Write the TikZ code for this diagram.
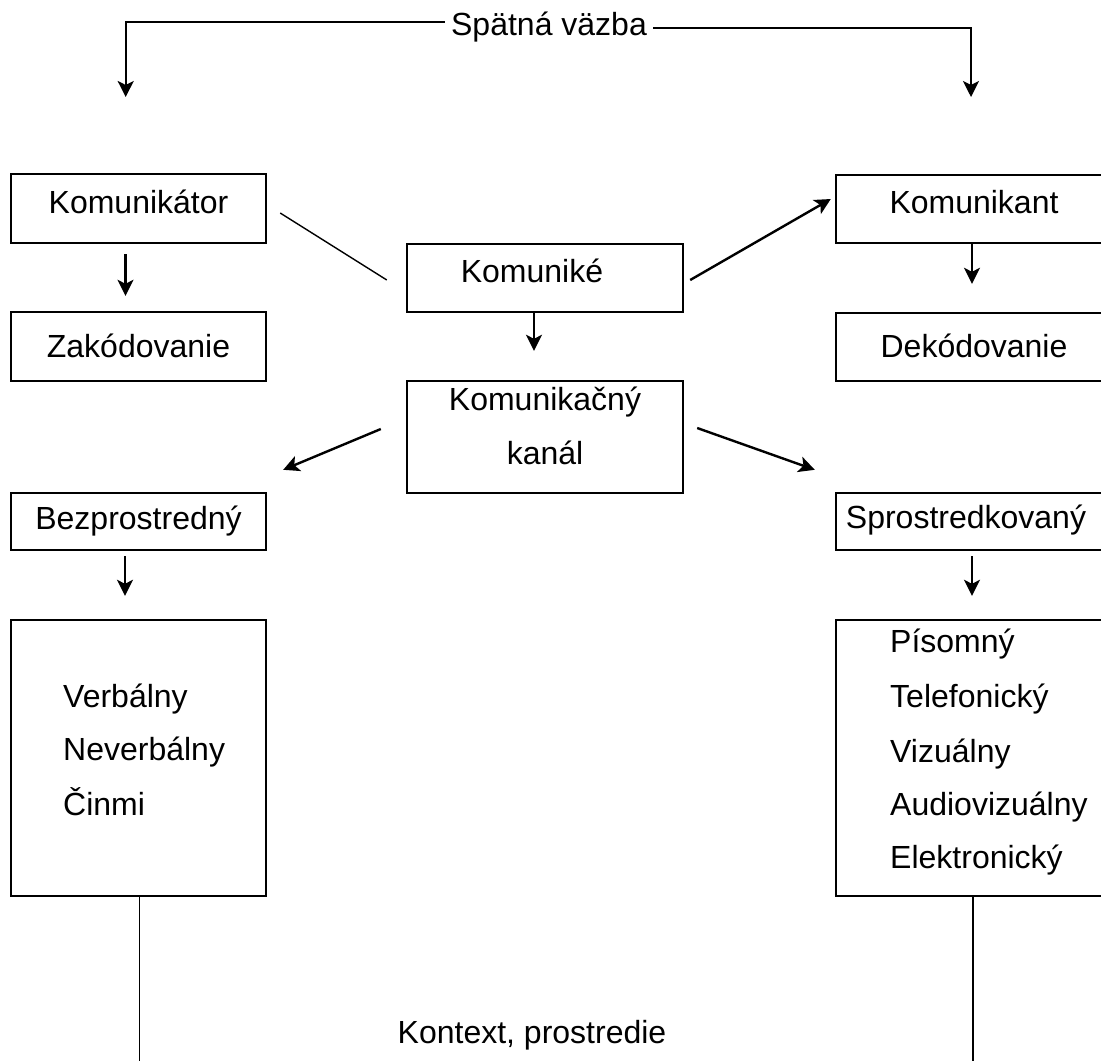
\documentclass[tikz,border=0pt]{standalone}
\usepackage{fontspec}
\setmainfont{Liberation Sans}
\usetikzlibrary{arrows.meta}

\tikzset{
    box/.style={draw, line width=2.4pt, inner sep=0pt, text height=23pt,
        font=\fontsize{32}{54}\selectfont},
    arr/.style={line width=2.4pt, -{Stealth[length=16pt, width=16pt, inset=4pt]}},
    plain/.style={line width=1.4pt},
    txt/.style={inner sep=0pt, font=\fontsize{32}{54}\selectfont}
}

\begin{document}
\begin{tikzpicture}[x=1pt, y=-1pt]
    \useasboundingbox (0,0) rectangle (1101,1061);
    \clip (0,0) rectangle (1101,1061);
    % Feedback loop
    \node [txt, inner xsep=6pt, text height=23pt, text depth=0pt] (spatna) at (549,23.5) {Spätná väzba};
    \coordinate (fbleft) at (125.7,97);
    \coordinate (fbright) at (971,97);
    \draw [arr] ([yshift=1.5pt]spatna.west) -| (fbleft);
    \draw [arr] ([yshift=-4.5pt]spatna.east) -| (fbright);

    % Boxes
    \node [box, minimum width=255, minimum height=69, text depth=14pt] (komunikator) at (138.5,208.5) {Komunikátor};
    \node [box, minimum width=255, minimum height=69, text depth=2pt] (zakodovanie) at (138.5,346.5) {Zakódovanie};
    \node [box, minimum width=276, minimum height=68, text depth=15pt] (komunike) at (545,278) {Komuniké\rule{26pt}{0pt}};
    \node [box, minimum width=276, minimum height=112, text depth=77pt] (kanal) at (545,437)
        {\begin{tabular}[t]{@{}c@{}}Komunikačný\\kanál\end{tabular}};
    \node [box, minimum width=276, minimum height=68, text depth=15pt] (komunikant) at (974,209) {Komunikant};
    \node [box, minimum width=276, minimum height=68, text depth=3pt] (dekodovanie) at (974,347) {Dekódovanie};
    \node [box, minimum width=255, minimum height=57, text depth=8pt] (bezprostredny) at (138.5,521.5) {Bezprostredný};
    \node [box, minimum width=276, minimum height=57, text depth=10pt] (sprostredkovany) at (974,521.5) {Sprostredkovaný\rule{16pt}{0pt}};
    \node [box, minimum width=255, minimum height=276] (verbox) at (138.5,758) {};
    \node [box, minimum width=276, minimum height=276] (sprobox) at (974,758) {};

    % Lists
    \node [txt, anchor=base west] (verbalny) at (63,707) {Verbálny};
    \node [txt, anchor=base west] (neverbalny) at (63,760) {Neverbálny};
    \node [txt, anchor=base west] (cinmi) at (63,815) {Činmi};
    \node [txt, anchor=base west] (pisomny) at (890,652) {Písomný};
    \node [txt, anchor=base west] (telefonicky) at (890,707) {Telefonický};
    \node [txt, anchor=base west] (vizualny) at (890,762) {Vizuálny};
    \node [txt, anchor=base west] (audiovizualny) at (890,815) {Audiovizuálny};
    \node [txt, anchor=base west] (elektronicky) at (890,868) {Elektronický};

    % Connectors
    \draw [arr, shorten <=10pt, shorten >=15pt] ([xshift=-13pt]komunikator.south) -- ([xshift=-13pt]zakodovanie.north);
    \draw [arr, shorten >=28pt] ([xshift=-2pt]komunikant.south) -- ([xshift=-2pt]dekodovanie.north);
    \draw [arr, shorten >=29pt] ([xshift=-11pt]komunike.south) -- ([xshift=-11pt]kanal.north);
    \draw [arr, shorten <=5pt, shorten >=23pt] ([xshift=-13.5pt]bezprostredny.south) -- ([xshift=-13.5pt]verbox.north);
    \draw [arr, shorten <=5pt, shorten >=23pt] ([xshift=-2pt]sprostredkovany.south) -- ([xshift=-2pt]sprobox.north);
    \draw [plain] ([xshift=13pt, yshift=-4.5pt]komunikator.east) -- ([xshift=-19pt, yshift=-2pt]komunike.west);
    \draw [arr] ([xshift=6pt, yshift=-2pt]komunike.east) -- ([xshift=-4pt, yshift=10pt]komunikant.west);
    \draw [arr] ([xshift=-25pt, yshift=8pt]kanal.west) -- ([xshift=16pt, yshift=22pt]bezprostredny.north east);
    \draw [arr] ([xshift=13pt, yshift=9pt]kanal.east) -- ([xshift=-20pt, yshift=22pt]sprostredkovany.north west);

    % Context
    \node [txt, anchor=base] (kontext) at (532,1043) {Kontext, prostredie};
    \coordinate (ctxleft) at (139.5,1061);
    \coordinate (ctxright) at (973,1061);
    \draw [plain] ([xshift=1pt]verbox.south) -- (ctxleft);
    \draw [plain] ([xshift=-1pt]sprobox.south) -- (ctxright);
\end{tikzpicture}
\end{document}
